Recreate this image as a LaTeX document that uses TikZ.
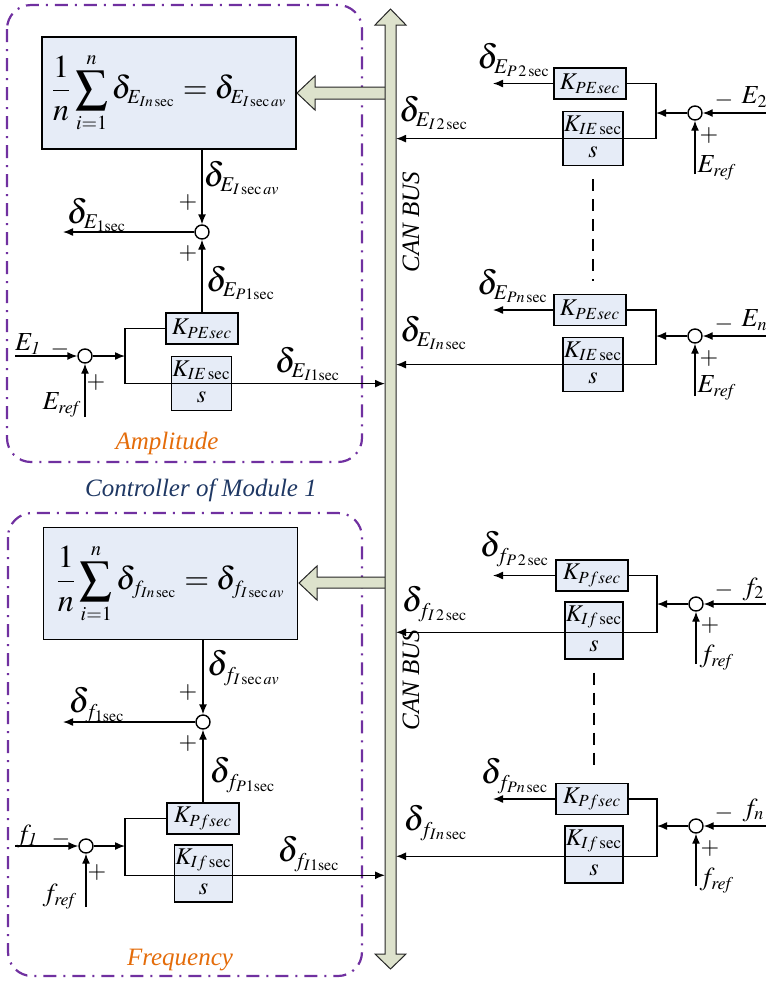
\documentclass[tikz,border=0pt]{standalone}
\usepackage{mathptmx}
\usepackage{fontspec}
\setmainfont{Liberation Serif}
\usetikzlibrary{positioning,shapes.multipart,arrows.meta}

\DeclareMathSizes{16}{16}{10}{7.5}
\DeclareMathSizes{17}{17}{10.5}{8}
\DeclareMathSizes{13}{13}{9}{7}
\DeclareMathSizes{12}{12}{8.5}{6.5}

\definecolor{boxblue}{RGB}{230,236,247}
\definecolor{busgreen}{RGB}{221,226,204}
\definecolor{modpurple}{RGB}{112,48,160}
\definecolor{partorange}{RGB}{228,108,10}
\definecolor{ctrlblue}{RGB}{31,56,100}

\begin{document}
\begin{tikzpicture}[
x=0.5pt, y=-0.5pt,
>={Latex[length=5pt,width=4pt]},
line width=0.7pt,
blk/.style={draw, fill=boxblue, line width=0.75pt, inner sep=0pt, minimum width=36pt, minimum height=15.5pt, font=\fontsize{12}{14}\selectfont},
fracblk/.style={rectangle split, rectangle split parts=2, draw, fill=boxblue, line width=0.75pt, minimum width=27pt, inner xsep=0.5pt, inner ysep=1.5pt, font=\fontsize{12}{14}\selectfont},
avgblk/.style={draw, fill=boxblue, line width=0.75pt, minimum width=127pt, minimum height=56pt, font=\fontsize{16}{19}\selectfont},
sumc/.style={circle, draw, fill=white, minimum size=7pt, inner sep=0pt, line width=0.7pt},
lab/.style={font=\fontsize{17}{20}\selectfont, inner sep=0pt},
sgn/.style={font=\fontsize{12}{14}\selectfont, inner sep=0pt},
sig/.style={font=\fontsize{13}{15}\selectfont, inner sep=0pt},
frame/.style={draw=modpurple, line width=1.1pt, rounded corners=12pt, dash pattern=on 6.5pt off 3.5pt on 1pt off 3.5pt},
busline/.style={draw=black!85, fill=busgreen, line width=0.5pt},
title/.style={font=\fontsize{12.5}{15}\selectfont\itshape, inner sep=0pt},
gap/.style={dash pattern=on 6pt off 4pt, shorten <=6.5pt, shorten >=6.5pt}
]
\useasboundingbox (0,0) rectangle (766,982);

% module frames
\draw[frame] (7,5) rectangle (362,462);
\draw[frame] (8,513) rectangle (362,976);
\node[title, text=partorange] (ampl) at (167,443) {Amplitude};
\node[title, text=ctrlblue] (ctrl) at (201,490) {Controller of Module 1};
\node[title, text=partorange] (freq) at (180,960) {Frequency};

% CAN bus
\draw[busline] (388,87) -- (315,87) -- (315,76) -- (297,93) -- (315,110) -- (315,99) -- (388,99) -- cycle;
\draw[busline] (388,577) -- (317,577) -- (317,566) -- (299,583) -- (317,600) -- (317,588) -- (388,588) -- cycle;
\draw[busline] (385,25) -- (375,25) -- (390.5,9) -- (406,25) -- (396,25) -- (396,954) -- (406,954) -- (390.5,969) -- (375,954) -- (385,954) -- cycle;
\coordinate (busL) at (385,0);
\coordinate (busR) at (396,0);
\node[title, rotate=90] (canE) at (411,222) {CAN BUS};
\node[title, rotate=90] (canf) at (411,680) {CAN BUS};

% ---- amplitude, module 1
\node[avgblk] (avgE) at (169,93) {$\displaystyle\frac{1}{n}\sum_{i=1}^{n}\delta_{E_{In\,\mathrm{sec}}}=\delta_{E_{I\,\mathrm{sec}\,av}}$};
\node[sumc] (s1E) at (202,232) {};
\node[blk] (kpE1) at (202,328.5) {$K_{PEsec}$};
\node[fracblk, minimum width=26.5pt] (kiE1) at (201.5,383.5) {$K_{IE\,\mathrm{sec}}$\nodepart{two}$\vphantom{K_{I}}s$};
\node[sumc] (s0E1) at (85,356) {};
\coordinate (inE1) at (15,356);
\coordinate (refE1) at (85,417);
\coordinate (brE1) at (125,356);
\coordinate (outE1) at (63,232);

\draw[->] (avgE.south -| s1E) -- (s1E);
\draw[->] (kpE1) -- (s1E);
\draw[->] (s1E) -- (outE1);
\draw[->] (inE1) -- (s0E1);
\draw[->] (refE1) -- (s0E1);
\draw[->] (s0E1) -- (brE1);
\draw (kpE1.west) -| (brE1) |- (kiE1.text split west);
\draw[->] (kiE1.text split east) -- (kiE1.text split east -| busL);

\node[lab] (dEav) at (242,178) {$\delta_{E_{I\,\mathrm{sec}\,av}}$};
\node[sgn] (pE1a) at (188,202) {$+$};
\node[sgn] (pE1b) at (188,253) {$+$};
\node[lab] (dE1) at (97,215) {$\delta_{E_{1\mathrm{sec}}}$};
\node[lab] (dEP1) at (241,283) {$\delta_{E_{P1\mathrm{sec}}}$};
\node[lab] (dEI1) at (308,364) {$\delta_{E_{I1\mathrm{sec}}}$};
\node[sig] (E1) at (28,344) {$E_{\mathit{1}}$};
\node[sgn] (mE1) at (60,349) {$-$};
\node[sgn] (pE1c) at (96,382) {$+$};
\node[sig] (Eref1) at (62,405) {$E_{\mathit{ref}}$};

% ---- amplitude, module 2
\node[blk] (kpE2) at (590,83.5) {$K_{PEsec}$};
\node[fracblk] (kiE2) at (593,138.5) {$K_{IE\,\mathrm{sec}}$\nodepart{two}$\vphantom{K_{I}}s$};
\node[sumc] (s0E2) at (695,113) {};
\coordinate (brE2) at (656,113);
\coordinate (inE2) at (775,113);
\coordinate (refE2) at (695,174);
\coordinate (outE2) at (493,83.5);

\draw[->] (inE2) -- (s0E2);
\draw[->] (refE2) -- (s0E2);
\draw[->] (s0E2) -- (brE2);
\draw (kpE2.east) -| (brE2) |- (kiE2.text split east);
\draw[->] (kpE2.west) -- (outE2);
\draw[->] (kiE2.text split west) -- (kiE2.text split west -| busR);

\node[lab] (dEP2) at (514,60) {$\delta_{E_{P\,2\,\mathrm{sec}}}$};
\node[lab] (dEI2) at (434,113) {$\delta_{E_{I\,2\,\mathrm{sec}}}$};
\node[sgn] (mE2) at (724,100) {$-$};
\node[sig, anchor=west] (E2) at (741,97) {$E_2$};
\node[sgn] (pE2) at (709,135) {$+$};
\node[sig] (Eref2) at (717,168) {$E_{\mathit{ref}}$};

% ---- amplitude, module n
\node[blk] (kpEn) at (590,310) {$K_{PEsec}$};
\node[fracblk] (kiEn) at (593,364.5) {$K_{IE\,\mathrm{sec}}$\nodepart{two}$\vphantom{K_{I}}s$};
\node[sumc] (s0En) at (695,336) {};
\coordinate (brEn) at (656,336);
\coordinate (inEn) at (775,336);
\coordinate (refEn) at (695,396);
\coordinate (outEn) at (493,310);

\draw[->] (inEn) -- (s0En);
\draw[->] (refEn) -- (s0En);
\draw[->] (s0En) -- (brEn);
\draw (kpEn.east) -| (brEn) |- (kiEn.text split east);
\draw[->] (kpEn.west) -- (outEn);
\draw[->] (kiEn.text split west) -- (kiEn.text split west -| busR);
\draw[gap] (kiE2.south) -- (kiE2.south |- kpEn.north);

\node[lab] (dEPn) at (513,286) {$\delta_{E_{Pn\,\mathrm{sec}}}$};
\node[lab] (dEIn) at (434,333) {$\delta_{E_{In\,\mathrm{sec}}}$};
\node[sgn] (mEn) at (724,324) {$-$};
\node[sig, anchor=west] (En) at (741,320) {$E_n$};
\node[sgn] (pEn) at (709,358) {$+$};
\node[sig] (Erefn) at (717,388) {$E_{\mathit{ref}}$};

% ---- frequency, module 1
\node[avgblk] (avgf) at (170.5,583.5) {$\displaystyle\frac{1}{n}\sum_{i=1}^{n}\delta_{f_{In\,\mathrm{sec}}}=\delta_{f_{I\,\mathrm{sec}\,av}}$};
\node[sumc] (s1f) at (203,722) {};
\node[blk] (kpf1) at (203,818.5) {$K_{Pfsec}$};
\node[fracblk, minimum width=26.5pt] (kif1) at (203.5,873.5) {$K_{If\,\mathrm{sec}}$\nodepart{two}$\vphantom{K_{I}}s$};
\node[sumc] (s0f1) at (86,846) {};
\coordinate (inf1) at (15,846);
\coordinate (reff1) at (86,907);
\coordinate (brf1) at (125,846);
\coordinate (outf1) at (63,722);

\draw[->] (avgf.south -| s1f) -- (s1f);
\draw[->] (kpf1) -- (s1f);
\draw[->] (s1f) -- (outf1);
\draw[->] (inf1) -- (s0f1);
\draw[->] (reff1) -- (s0f1);
\draw[->] (s0f1) -- (brf1);
\draw (kpf1.west) -| (brf1) |- (kif1.text split west);
\draw[->] (kif1.text split east) -- (kif1.text split east -| busL);

\node[lab] (dfav) at (244,668) {$\delta_{f_{I\,\mathrm{sec}\,av}}$};
\node[sgn] (pf1a) at (188,692) {$+$};
\node[sgn] (pf1b) at (188,743) {$+$};
\node[lab] (df1) at (97,705) {$\delta_{f_{1\mathrm{sec}}}$};
\node[lab] (dfP1) at (243,775) {$\delta_{f_{P1\mathrm{sec}}}$};
\node[lab] (dfI1) at (309,854) {$\delta_{f_{I1\mathrm{sec}}}$};
\node[sig] (f1) at (27,836) {$f_{\mathit{1}}$};
\node[sgn] (mf1) at (61,839) {$-$};
\node[sgn] (pf1c) at (97,872) {$+$};
\node[sig] (fref1) at (60,897) {$f_{\mathit{ref}}$};

% ---- frequency, module 2
\node[blk] (kpf2) at (592,575.5) {$K_{Pfsec}$};
\node[fracblk] (kif2) at (594,630.5) {$K_{If\,\mathrm{sec}}$\nodepart{two}$\vphantom{K_{I}}s$};
\node[sumc] (s0f2) at (696,604) {};
\coordinate (brf2) at (657,604);
\coordinate (inf2) at (775,604);
\coordinate (reff2) at (696,664);
\coordinate (outf2) at (493,575.5);

\draw[->] (inf2) -- (s0f2);
\draw[->] (reff2) -- (s0f2);
\draw[->] (s0f2) -- (brf2);
\draw (kpf2.east) -| (brf2) |- (kif2.text split east);
\draw[->] (kpf2.west) -- (outf2);
\draw[->] (kif2.text split west) -- (kif2.text split west -| busR);

\node[lab] (dfP2) at (515,549) {$\delta_{f_{P\,2\,\mathrm{sec}}}$};
\node[lab] (dfI2) at (435,604) {$\delta_{f_{I\,2\,\mathrm{sec}}}$};
\node[sgn] (mf2) at (724,590) {$-$};
\node[sig, anchor=west] (f2) at (742,589) {$f_2$};
\node[sgn] (pf2) at (710,625) {$+$};
\node[sig] (fref2) at (717,658) {$f_{\mathit{ref}}$};

% ---- frequency, module n
\node[blk] (kpfn) at (592,799) {$K_{Pfsec}$};
\node[fracblk] (kifn) at (594,854.5) {$K_{If\,\mathrm{sec}}$\nodepart{two}$\vphantom{K_{I}}s$};
\node[sumc] (s0fn) at (696,826) {};
\coordinate (brfn) at (657,826);
\coordinate (infn) at (775,826);
\coordinate (reffn) at (696,886);
\coordinate (outfn) at (493,799);

\draw[->] (infn) -- (s0fn);
\draw[->] (reffn) -- (s0fn);
\draw[->] (s0fn) -- (brfn);
\draw (kpfn.east) -| (brfn) |- (kifn.text split east);
\draw[->] (kpfn.west) -- (outfn);
\draw[->] (kifn.text split west) -- (kifn.text split west -| busR);
\draw[gap] (kif2.south) -- (kif2.south |- kpfn.north);

\node[lab] (dfPn) at (515,776) {$\delta_{f_{Pn\,\mathrm{sec}}}$};
\node[lab] (dfIn) at (436,823) {$\delta_{f_{In\,\mathrm{sec}}}$};
\node[sgn] (mfn) at (724,813) {$-$};
\node[sig, anchor=west] (fn) at (742,810) {$f_n$};
\node[sgn] (pfn) at (710,848) {$+$};
\node[sig] (frefn) at (717,881) {$f_{\mathit{ref}}$};

\end{tikzpicture}
\end{document}
